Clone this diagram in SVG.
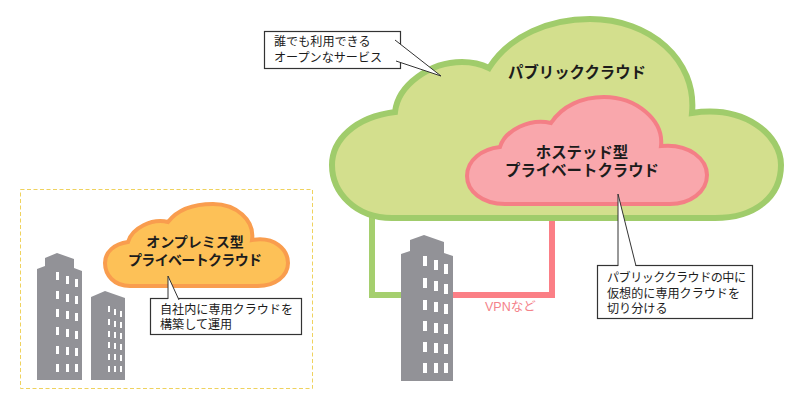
<svg xmlns="http://www.w3.org/2000/svg" width="800" height="408" viewBox="0 0 800 408">
<style>
text{font-family:"Liberation Sans","Noto Sans CJK JP",sans-serif;fill:#1c1c1c}
.b{font-weight:700;font-size:15.400px;text-anchor:middle}
.o{font-weight:700;font-size:14px;text-anchor:middle}
.c{font-size:12.100px}
.box{fill:#fff;stroke:#333;stroke-width:1.2}
.lead{fill:none;stroke:#333;stroke-width:1}
.bld{fill:#929297}
.win{fill:#fff}
</style>
<rect width="800" height="408" fill="#fff"/>
<g id="private-frame"><rect x="20.500" y="189.500" width="292" height="199" fill="none" stroke="#efd25e" stroke-width="1" stroke-dasharray="4 2.500"/></g>
<g id="connectors" fill="none" stroke-width="6">
<path d="M372 212V295H402" stroke="#a5cf6e"/>
<path d="M552 200V295H452" stroke="#fb7f86"/>
</g>
<g id="public-cloud">
<path d="M395 112C398 85 430 62 462 62C472 62 481 64 489 68C510 35 550 19 590 19C650 19 697 60 692 113C745 105 781 135 781 165C781 197 755 218 715 218H392C355 218 332 192 332 165C332 140 355 117 395 112Z" fill="#d3df8d" stroke="#a0cc6b" stroke-width="6"/>
<text class="b" x="577" y="78">パブリッククラウド</text>
</g>
<g id="hosted-cloud">
<path d="M500 147C505 130 530 118 551 123C562 106 582 97 604 97C636 97 664 120 661 146C690 143 707 160 707 175C707 192 690 204 670 204H505C482 204 467 191 467 176C467 160 482 149 500 147Z" fill="#f9a7ac" stroke="#f47f86" stroke-width="4"/>
<text class="b" x="582" y="158">ホステッド型</text>
<text class="b" x="582" y="176">プライベートクラウド</text>
</g>
<g id="onprem-cloud">
<path d="M128 242C132 228 152 218 168 222C178 209 195 204 213 204C236 204 255 220 252 240C275 236 288 250 288 263C288 276 275 286 258 286H130C114 286 105 275 105 263C105 252 114 244 128 242Z" fill="#fdc157" stroke="#f99d4e" stroke-width="4"/>
<text class="o" x="195" y="247">オンプレミス型</text>
<text class="o" x="195" y="265" textLength="134" lengthAdjust="spacing">プライベートクラウド</text>
</g>
<g id="building-left">
<path class="bld" d="M37 380V269L45 266V258L57 253L74 259V268L82 271V380Z"/>
<g class="win"><rect x="56" y="272" width="3" height="8"/><rect x="66" y="276" width="3" height="8"/><rect x="75" y="279" width="3" height="8"/><rect x="56" y="291" width="3" height="8"/><rect x="66" y="294" width="3" height="8"/><rect x="75" y="296" width="3" height="8"/><rect x="56" y="309" width="3" height="8"/><rect x="66" y="311" width="3" height="8"/><rect x="75" y="313" width="3" height="8"/><rect x="56" y="327" width="3" height="8"/><rect x="66" y="329" width="3" height="8"/><rect x="75" y="331" width="3" height="8"/><rect x="56" y="346" width="3" height="8"/><rect x="66" y="347" width="3" height="8"/><rect x="75" y="348" width="3" height="8"/><rect x="56" y="364" width="3" height="8"/><rect x="66" y="364" width="3" height="8"/><rect x="75" y="364" width="3" height="8"/></g>
</g>
<g id="building-middle">
<path class="bld" d="M91 380V297L105 291L125 298V380Z"/>
<g class="win"><rect x="108" y="306" width="2" height="6"/><rect x="114" y="309" width="2" height="6"/><rect x="120" y="311" width="2" height="6"/><rect x="108" y="319" width="2" height="6"/><rect x="114" y="321" width="2" height="6"/><rect x="120" y="322" width="2" height="6"/><rect x="108" y="331" width="2" height="6"/><rect x="114" y="332" width="2" height="6"/><rect x="120" y="333" width="2" height="6"/><rect x="108" y="342" width="2" height="6"/><rect x="114" y="343" width="2" height="6"/><rect x="120" y="344" width="2" height="6"/><rect x="108" y="354" width="2" height="6"/><rect x="114" y="354" width="2" height="6"/><rect x="120" y="355" width="2" height="6"/><rect x="108" y="366" width="2" height="6"/><rect x="114" y="366" width="2" height="6"/><rect x="120" y="366" width="2" height="6"/></g>
</g>
<g id="building-right">
<path class="bld" d="M401 381V254L410 251V240L424 235L444 242V253L453 256V381Z"/>
<g class="win"><rect x="423" y="256" width="4" height="10"/><rect x="434" y="260" width="4" height="10"/><rect x="444" y="264" width="4" height="10"/><rect x="423" y="278" width="4" height="10"/><rect x="434" y="281" width="4" height="10"/><rect x="444" y="284" width="4" height="10"/><rect x="423" y="300" width="4" height="10"/><rect x="434" y="302" width="4" height="10"/><rect x="444" y="304" width="4" height="10"/><rect x="423" y="321" width="4" height="10"/><rect x="434" y="323" width="4" height="10"/><rect x="444" y="324" width="4" height="10"/><rect x="423" y="342" width="4" height="10"/><rect x="434" y="343" width="4" height="10"/><rect x="444" y="344" width="4" height="10"/><rect x="423" y="363" width="4" height="10"/><rect x="434" y="363" width="4" height="10"/><rect x="444" y="363" width="4" height="10"/></g>
</g>
<text id="vpn-label" x="485" y="311" font-size="12.500" style="fill:#f4828a">VPNなど</text>
<g id="callout-public">
<rect class="box" x="264.500" y="31.500" width="136" height="37"/>
<path d="M395 40L441 76L396 61Z" fill="#fff"/>
<path d="M395 40L441 76L396 61" class="lead"/>
<text class="c" x="274" y="46">誰でも利用できる</text>
<text class="c" x="274" y="62">オープンなサービス</text>
</g>
<g id="callout-hosted">
<rect class="box" x="597.500" y="265.500" width="155" height="53"/>
<path d="M618 267V194L636 267Z" fill="#fff"/>
<path class="lead" d="M618 266V194L636 266"/>
<text class="c" x="607" y="282" textLength="139" lengthAdjust="spacing">パブリッククラウドの中に</text>
<text class="c" x="607" y="298">仮想的に専用クラウドを</text>
<text class="c" x="607" y="313">切り分ける</text>
</g>
<g id="callout-onprem">
<rect class="box" x="150.500" y="298.500" width="151" height="36"/>
<path d="M168 300V276L179 300Z" fill="#fff"/>
<path class="lead" d="M168 299V276L179 300"/>
<text class="c" x="160" y="314">自社内に専用クラウドを</text>
<text class="c" x="160" y="329">構築して運用</text>
</g>
</svg>
